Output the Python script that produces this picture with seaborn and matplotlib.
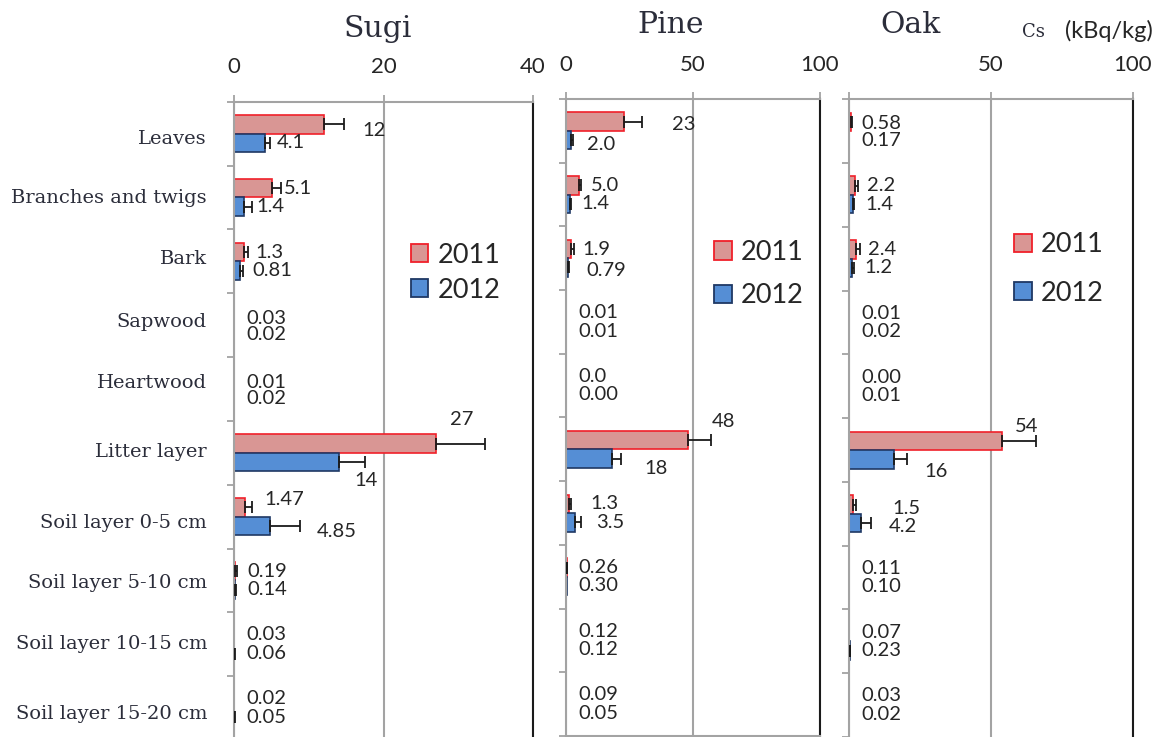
import matplotlib
matplotlib.use("Agg")
import matplotlib.pyplot as plt
from matplotlib.patches import Patch
from matplotlib.font_manager import FontProperties
from matplotlib.ticker import FixedLocator
import pandas as pd
import seaborn as sns

# ---- data -------------------------------------------------------------
parts = ["Leaves", "Branches and twigs", "Bark", "Sapwood", "Heartwood",
         "Litter layer", "Soil layer 0-5 cm", "Soil layer 5-10 cm",
         "Soil layer 10-15 cm", "Soil layer 15-20 cm"]
years = ["2011", "2012"]
species = ["Sugi", "Pine", "Oak"]

# concentrations (kBq/kg) as printed next to the bars
sugi_2011 = ["12", "5.1", "1.3", "0.03", "0.01", "27", "1.47", "0.19", "0.03", "0.02"]
sugi_2012 = ["4.1", "1.4", "0.81", "0.02", "0.02", "14", "4.85", "0.14", "0.06", "0.05"]
pine_2011 = ["23", "5.0", "1.9", "0.01", "0.0", "48", "1.3", "0.26", "0.12", "0.09"]
pine_2012 = ["2.0", "1.4", "0.79", "0.01", "0.00", "18", "3.5", "0.30", "0.12", "0.05"]
oak_2011 = ["0.58", "2.2", "2.4", "0.01", "0.00", "54", "1.5", "0.11", "0.07", "0.03"]
oak_2012 = ["0.17", "1.4", "1.2", "0.02", "0.01", "16", "4.2", "0.10", "0.23", "0.02"]

# standard deviations
sugi_err_2011 = [2.7, 1.2, 0.6, 0, 0, 6.6, 0.9, 0.15, 0, 0]
sugi_err_2012 = [0.7, 1.0, 0.35, 0, 0, 3.5, 3.95, 0.1, 0.05, 0.04]
pine_err_2011 = [6.8, 1.0, 1.2, 0, 0, 9.0, 0.7, 0.2, 0, 0]
pine_err_2012 = [0.7, 0.5, 0.3, 0, 0, 3.6, 2.3, 0, 0, 0]
oak_err_2011 = [0.5, 1.1, 1.5, 0, 0, 11.7, 0.8, 0, 0, 0]
oak_err_2012 = [0, 0.5, 0.5, 0, 0, 4.5, 3.4, 0, 0.2, 0]

x_max = [40, 100, 100]
x_ticks = [[0, 20, 40], [0, 50, 100], [0, 50, 100]]
x_ticklabels = [["0", "20", "40"], ["0", "50", "100"], ["", "50", "100"]]

# ---- styling ----------------------------------------------------------
fill_colors = {"2011": "#D99694", "2012": "#558ED5"}
edge_colors = {"2011": "#F0202A", "2012": "#1F3864"}
grid_gray = "#a3a3a3"
text_dark = "#262626"
serif_dark = "#2b2d3a"

W, H = 1168, 737
# axes boxes in pixels: left, top, right, bottom
axes_px = [(234, 101.7, 533, 740), (566, 99, 820, 736), (849, 99.3, 1133, 737)]
title_px = [(377.5, 37), (671, 33.3), (911, 33.3)]
legend_px = [((410.7, 272.7), 0.37), ((714, 274.2), 0.68), ((1014, 269), 0.86)]
# small vertical nudges (pixels, downward) of the category names
part_label_dy = [3, -1, -4, -5, -8, -3, 4, 1, -2, 4]

# label nudges in pixels (dx from bar end, dy downward); default (12, 0)
label_nudge = [
    {(0, 0): (39, 6), (3, 0): (12, 3), (4, 0): (12, 3), (5, 0): (14, -24),
     (5, 1): (16, 18), (6, 0): (19, -8), (6, 1): (47, 6)},
    {(0, 0): (48, 3), (0, 1): (16, 4), (2, 1): (18, 3), (5, 0): (24, -19),
     (5, 1): (33, 10), (6, 0): (21, 0), (6, 1): (21, 0)},
    {(0, 0): (11, 2), (5, 0): (13, -14), (5, 1): (30, 12), (6, 0): (39, 4),
     (6, 1): (28, 3)},
]

sns.set_theme(style="white")
plt.rcParams["font.family"] = ["Lato", "DejaVu Sans"]

values = [(sugi_2011, sugi_2012), (pine_2011, pine_2012), (oak_2011, oak_2012)]
errors = [(sugi_err_2011, sugi_err_2012), (pine_err_2011, pine_err_2012),
          (oak_err_2011, oak_err_2012)]

fig = plt.figure(figsize=(W / 100, H / 100), dpi=100)

for k, name in enumerate(species):
    l, t, r, b = axes_px[k]
    ax = fig.add_axes([l / W, 1 - b / H, (r - l) / W, (b - t) / H])

    rows = []
    for yi, yr in enumerate(years):
        for pi, part in enumerate(parts):
            rows.append({"part": part, "year": yr,
                         "value": float(values[k][yi][pi]),
                         "label": values[k][yi][pi],
                         "err": errors[k][yi][pi]})
    df = pd.DataFrame(rows)

    sns.barplot(data=df, x="value", y="part", hue="year", orient="h",
                order=parts, hue_order=years, palette=fill_colors,
                width=0.58, errorbar=None, legend=False, ax=ax,
                linewidth=1.2, saturation=1)

    for yi, yr in enumerate(years):
        cont = ax.containers[yi]
        sub = df[df["year"] == yr].reset_index(drop=True)
        for pi, bar in enumerate(cont):
            bar.set_edgecolor(edge_colors[yr])
            bar.set_linewidth(1.2)
            yc = bar.get_y() + bar.get_height() / 2
            val = sub.loc[pi, "value"]
            err = sub.loc[pi, "err"]
            if err > 0:
                ax.errorbar(val, yc, xerr=[[0], [err]], fmt="none",
                            ecolor="#1a1a1a", elinewidth=1.3, capsize=4.5,
                            capthick=1.3, zorder=3)
            dx, dy = label_nudge[k].get((pi, yi), (12, 0))
            ax.annotate(sub.loc[pi, "label"], xy=(val, yc),
                        xytext=(dx, -dy), textcoords="offset pixels",
                        ha="left", va="center", fontsize=14.5,
                        color=text_dark, family=["Lato", "DejaVu Sans"])

    ax.set_xlim(0, x_max[k])
    ax.set_ylim(len(parts) - 0.5, -0.5)
    ax.set_xlabel("")
    ax.set_ylabel("")

    ax.xaxis.tick_top()
    ax.set_xticks(x_ticks[k])
    ax.set_xticklabels(x_ticklabels[k])
    ax.tick_params(axis="x", top=True, bottom=False, labeltop=True,
                   labelbottom=False, length=5, width=1.3, color=grid_gray,
                   pad=12.5, labelsize=16, labelcolor=text_dark)

    ax.yaxis.set_minor_locator(FixedLocator([i - 0.5 for i in range(len(parts) + 1)]))
    ax.tick_params(axis="y", which="minor", left=True, length=5, width=1.3,
                   color=grid_gray)
    ax.tick_params(axis="y", which="major", left=False, length=0,
                   labelleft=False)
    ax.set_yticks(range(len(parts)))
    if k == 0:
        # category names, right-aligned beside the first panel
        for pi, part in enumerate(parts):
            ax.annotate(part, xy=(0, pi), xycoords=("axes fraction", "data"),
                        xytext=(-27, -part_label_dy[pi]),
                        textcoords="offset pixels", ha="right",
                        va="center_baseline", family="DejaVu Serif",
                        fontsize=14, color=serif_dark, annotation_clip=False)

    ax.grid(axis="x", color=grid_gray, linewidth=1.5)
    ax.grid(axis="y", visible=False)
    ax.set_axisbelow(True)
    for side in ("top", "left"):
        ax.spines[side].set_color(grid_gray)
        ax.spines[side].set_linewidth(1.5)
    ax.spines["right"].set_color("#1a1a1a")
    ax.spines["right"].set_linewidth(1.5)
    ax.spines["bottom"].set_visible(k == 1)
    ax.spines["bottom"].set_color(grid_gray)
    ax.spines["bottom"].set_linewidth(1.5)

    handles = [Patch(facecolor=fill_colors[y], edgecolor=edge_colors[y],
                     linewidth=1.3, label=y) for y in years]
    (lx, ly), spacing = legend_px[k]
    ax.legend(handles=handles, loc="center left",
              bbox_to_anchor=(lx / W, 1 - ly / H), bbox_transform=fig.transFigure,
              frameon=False, borderpad=0, borderaxespad=0,
              handlelength=0.65, handleheight=0.65, handletextpad=0.35,
              labelspacing=spacing,
              prop=FontProperties(family="Lato", size=19.5),
              labelcolor=text_dark)

    tx, ty = title_px[k]
    fig.text(tx / W, 1 - ty / H, name, ha="center", va="baseline",
             family="DejaVu Serif", fontsize=21.5, color=serif_dark)

fig.text(1022 / W, 1 - 37 / H, "Cs", ha="left", va="baseline",
         family="DejaVu Serif", fontsize=13, color=serif_dark)
fig.text(1065 / W, 1 - 38 / H, "(kBq/kg)", ha="left", va="baseline",
         family="Lato", fontsize=17, color=text_dark)

fig.savefig("out.png", dpi=100)
